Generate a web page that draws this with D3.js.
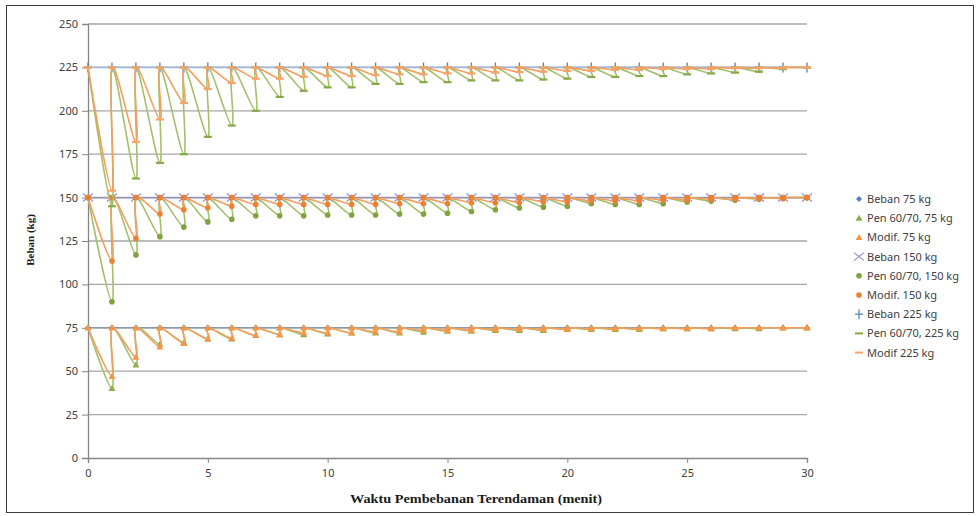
<!DOCTYPE html>
<html>
<head>
<meta charset="utf-8">
<script src="https://cdn.jsdelivr.net/npm/d3@7"></script>
<style>
    body { margin: 0; background: #fff; }
    text { font-family: "Noto Sans", "Open Sans", sans-serif; }
</style>
</head>
<body>
<svg id="chart" width="979" height="516"></svg>
<script>
// menit ke-1 .. ke-30 (titik awal x = 0 ada di beban penuh)
const minutes = [1,2,3,4,5,6,7,8,9,10,11,12,13,14,15,16,17,18,19,20,21,22,23,24,25,26,27,28,29,30]
const loads = [75, 150, 225]

// nilai terendah tiap menit sebelum beban kembali penuh
const pen75Low = [40,53.5,65.5,66.5,68.5,68.5,70.5,71,71,71.5,72,72,72,72.5,73,73,73.5,73.5,73.5,74,74,74,74,74.5,74.5,74.5,74.5,74.5,75,75]
const modif75Low = [47,58,64,66,68.5,69,70.5,71,72,72,72,72.5,72.5,73.5,73.5,73.5,74,74,74,74,74.5,74.5,74.5,74.5,74.5,74.5,75,75,75,75]
const pen150Low = [90,117,127.5,133,136,137.5,139.5,139.5,139.5,140,140,140,140.5,140.5,141,142,143,144,144.5,145,146.5,146,146,146.5,147.5,148,148.5,149,149.5,150]
const modif150Low = [113.5,126.5,140.5,143,144,145,146,146,146,146,146,146,146.5,146.5,146.5,147,147,147,147.5,147.5,148,148,148,148.5,148.5,149,149,149.5,149.5,150]
const pen225Low = [145,161,170,175,185,191.5,200,208,211.5,213.5,213.5,215.5,215.5,216.5,216.5,217.5,217.5,217.5,218,218.5,219.5,219.5,220,220,221,221.5,222,222.5,224,225]
const modif225Low = [154,182,195,204.5,212.5,216,218.5,218.5,219.5,220,220,220.5,221,221,221.5,221.5,222,222.3,222.5,223,223,223.5,223.5,224,224,224,224.5,224.5,224.5,225]

const seriesNames = ['Beban 75 kg','Pen 60/70, 75 kg','Modif. 75 kg','Beban 150 kg','Pen 60/70, 150 kg','Modif. 150 kg','Beban 225 kg','Pen 60/70, 225 kg','Modif 225 kg']
const yTicks = [0,25,50,75,100,125,150,175,200,225,250]
const xTicks = [0,5,10,15,20,25,30]

const flat = load => [[0, load], ...minutes.map(m => [m, load])]
const sawtooth = (load, lows) => [[0, load], ...minutes.flatMap((m, i) => [[m, lows[i]], [m, load]])]

const seriesData = [
    flat(loads[0]), sawtooth(loads[0], pen75Low), sawtooth(loads[0], modif75Low),
    flat(loads[1]), sawtooth(loads[1], pen150Low), sawtooth(loads[1], modif150Low),
    flat(loads[2]), sawtooth(loads[2], pen225Low), sawtooth(loads[2], modif225Low)
]

const styles = [
    {line: '#8d99ab', marker: 'diamond', mc: '#4F81BD'},
    {line: '#A3C16B', marker: 'triangle', mc: '#8BAE4A'},
    {line: '#F59E5E', marker: 'triangle', mc: '#F79646'},
    {line: '#9a94b8', marker: 'x', mc: '#9C8FD6'},
    {line: '#A3C16B', marker: 'circle', mc: '#7FA33E'},
    {line: '#F59E5E', marker: 'circle', mc: '#EE8030'},
    {line: '#9fb7dc', marker: 'plus', mc: '#4F81BD'},
    {line: '#A3C16B', marker: 'dash', mc: '#86A94A'},
    {line: '#F59E5E', marker: 'dash', mc: '#F6A46A'}
]

const svg = d3.select('#chart')

// bingkai luar
svg.append('rect')
    .attr('x', 6.5).attr('y', 5.5)
    .attr('width', 967).attr('height', 507)
    .attr('fill', 'none')
    .attr('stroke', '#3a3a3a')
    .attr('stroke-width', 1)

const x = d3.scaleLinear().domain([0, 30]).range([88, 807])
const y = d3.scaleLinear().domain([0, 250]).range([458, 24])

// grid
svg.append('g')
    .selectAll('line')
    .data(yTicks.filter(d => d > 0))
    .enter().append('line')
        .attr('x1', x(0)).attr('x2', x(30))
        .attr('y1', d => y(d)).attr('y2', d => y(d))
        .attr('stroke', '#a6a6a6')
        .attr('stroke-width', 1.3)

const yAxis = d3.axisLeft(y).tickValues(yTicks).tickSize(6).tickPadding(4)
const xAxis = d3.axisBottom(x).tickValues(xTicks).tickSize(5).tickPadding(6)

const yAxisGroup = svg.append('g')
    .attr('transform', `translate(${x(0)}, 0)`)
    .call(yAxis)
const xAxisGroup = svg.append('g')
    .attr('transform', `translate(0, ${y(0)})`)
    .call(xAxis)

;[yAxisGroup, xAxisGroup].forEach(g => {
    g.select('.domain').attr('stroke', '#868686').attr('stroke-width', 1.3)
    g.selectAll('.tick line').attr('stroke', '#868686')
    g.selectAll('.tick text')
        .attr('fill', '#404040')
        .style('font-size', '11px')
})

const line = d3.line()
    .x(d => x(d[0]))
    .y(d => y(d[1]))
    .curve(d3.curveCardinal)

const markerPath = (type, cx, cy) => {
    switch (type) {
        case 'diamond': return `M${cx},${cy-3}L${cx+3},${cy}L${cx},${cy+3}L${cx-3},${cy}Z`
        case 'triangle': return `M${cx},${cy-3.5}L${cx+3.5},${cy+2.5}L${cx-3.5},${cy+2.5}Z`
        case 'circle': return `M${cx-2.8},${cy}a2.8,2.8 0 1,0 5.6,0a2.8,2.8 0 1,0 -5.6,0`
        case 'x': return `M${cx-5},${cy-4}L${cx+5},${cy+4}M${cx-5},${cy+4}L${cx+5},${cy-4}`
        case 'plus': return `M${cx-4},${cy}L${cx+4},${cy}M${cx},${cy-5}L${cx},${cy+5}`
        case 'dash': return `M${cx-4},${cy}L${cx+4},${cy}`
    }
}
const stroked = t => t == 'x' || t == 'plus' || t == 'dash'

seriesData.forEach((data, i) => {
    const st = styles[i]
    const g = svg.append('g').attr('class', 'series')

    g.append('path')
        .datum(data)
        .attr('fill', 'none')
        .attr('stroke', st.line)
        .attr('stroke-width', 1.6)
        .attr('d', line)

    g.selectAll('path.m')
        .data(data)
        .enter().append('path')
            .attr('class', 'm')
            .attr('d', d => markerPath(st.marker, x(d[0]), y(d[1])))
            .attr('fill', stroked(st.marker) ? 'none' : st.mc)
            .attr('stroke', stroked(st.marker) ? st.mc : 'none')
            .attr('stroke-width', st.marker == 'dash' ? 2.2 : 1.3)
})

// legenda
const legend = svg.append('g')
seriesNames.forEach((name, i) => {
    const st = styles[i]
    const ly = 199 + i * 19.2
    legend.append('path')
        .attr('d', markerPath(st.marker, 859, ly))
        .attr('fill', stroked(st.marker) ? 'none' : st.mc)
        .attr('stroke', stroked(st.marker) ? st.mc : 'none')
        .attr('stroke-width', st.marker == 'dash' ? 2 : 1.2)
    legend.append('text')
        .attr('x', 867)
        .attr('y', ly + 4)
        .attr('fill', '#404040')
        .style('font-size', '11px')
        .text(name)
})

// judul sumbu
svg.append('text')
    .attr('transform', 'translate(34, 240) rotate(-90)')
    .attr('text-anchor', 'middle')
    .style('font-family', '"Liberation Serif", serif')
    .style('font-weight', 'bold')
    .style('font-size', '11px')
    .attr('fill', '#1a1a1a')
    .text('Beban (kg)')

svg.append('text')
    .attr('x', 476)
    .attr('y', 503)
    .attr('text-anchor', 'middle')
    .attr('textLength', 252)
    .attr('lengthAdjust', 'spacingAndGlyphs')
    .style('font-family', '"Liberation Serif", serif')
    .style('font-weight', 'bold')
    .style('font-size', '12.5px')
    .attr('fill', '#1a1a1a')
    .text('Waktu Pembebanan Terendaman (menit)')
</script>
</body>
</html>
